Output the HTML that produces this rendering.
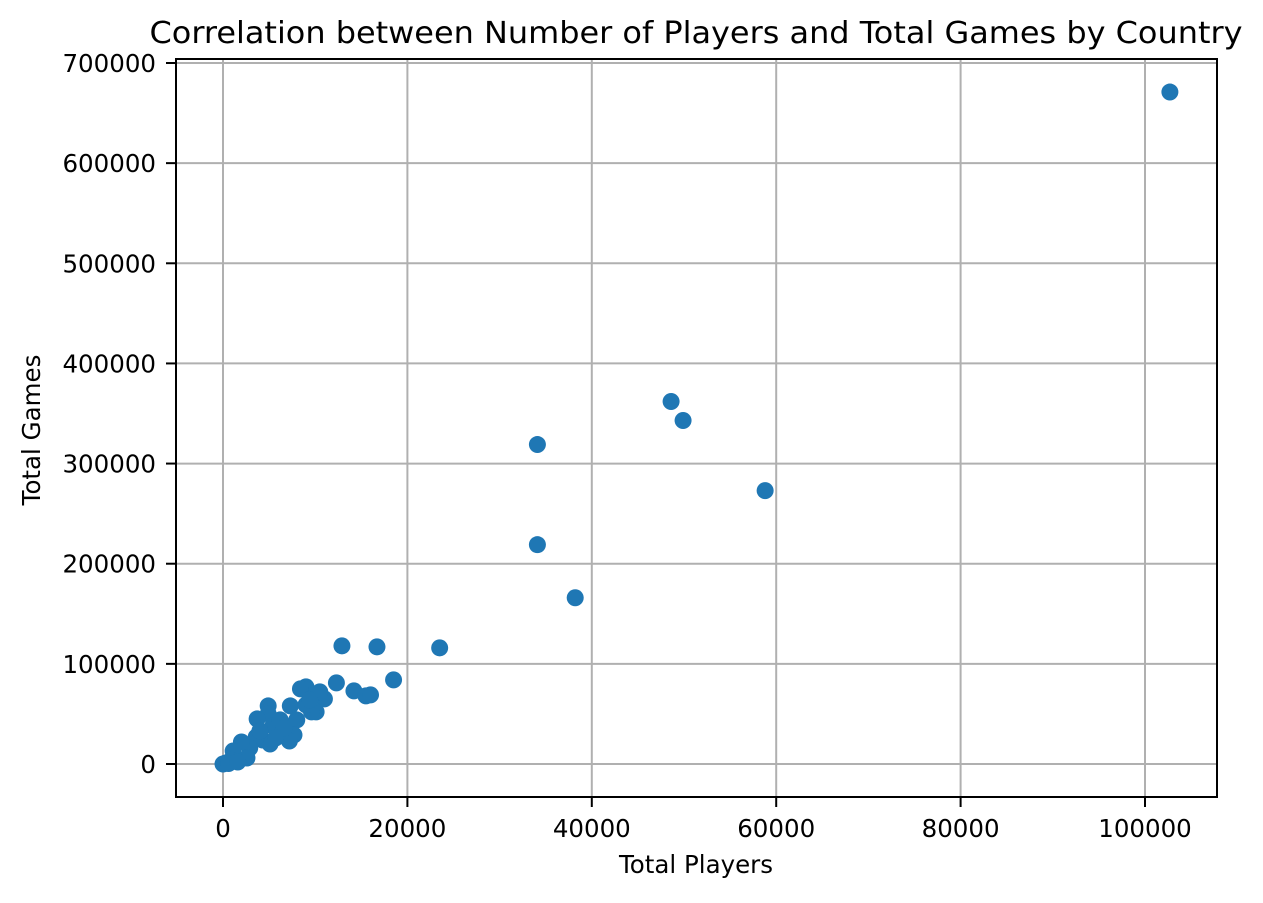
<!DOCTYPE html>
<html><head><meta charset="utf-8"><style>
body{margin:0;background:#fff;}
svg text{font-family:"DejaVu Sans","Liberation Sans",sans-serif;fill:#000;}
</style></head><body>
<svg id="chart" width="1263" height="898" xmlns="http://www.w3.org/2000/svg">
<text x="696" y="43" font-size="30" text-anchor="middle" textLength="1093" lengthAdjust="spacingAndGlyphs">Correlation between Number of Players and Total Games by Country</text>
<g id="grid"></g>
<g id="ticks"></g>
<g id="points"></g>
<rect x="176" y="59" width="1041" height="738" fill="none" stroke="#000" stroke-width="2"/>
<text x="696" y="873" font-size="24.5" text-anchor="middle">Total Players</text>
<text x="40" y="430" font-size="24.5" text-anchor="middle" transform="rotate(-90 40 430)">Total Games</text>
</svg>
<script>
const players=[102700,48600,49900,34100,58800,34100,38200,23500,12900,16700,18500,12300,14200,15500,16000,11000,10500,9000,8400,7300,10100,9600,8000,7700,7200,4900,4900,3700,5400,6200,6600,5100,4300,3600,2900,2000,2600,1100,900,300,0,600,1600,4000,5700,9000,9400];
const games=[671000,362000,343000,319000,273000,219000,166000,116000,118000,117000,84000,81000,73000,68000,69000,65000,72000,77000,75000,58000,52000,52000,44000,29000,23000,58000,50000,45000,38000,44000,36000,20000,24000,27000,16000,22000,6000,13000,4000,1000,0,500,2000,33000,26000,59000,64000];
const xTicks=[0,20000,40000,60000,80000,100000];
const yTicks=[0,100000,200000,300000,400000,500000,600000,700000];
const NS="http://www.w3.org/2000/svg";
function xs(v){return 223+v*(1145-223)/100000;}
function ys(v){return 764-v*(764-63)/700000;}
function mk(tag,attrs,parent){const e=document.createElementNS(NS,tag);for(const k in attrs)e.setAttribute(k,attrs[k]);parent.appendChild(e);return e;}
const grid=document.getElementById('grid'),ticks=document.getElementById('ticks'),pts=document.getElementById('points');
xTicks.forEach(t=>{const x=xs(t);
const g=mk('line',{x1:x,x2:x,y1:59,y2:797,stroke:'#b0b0b0','stroke-width':2},grid);


mk('line',{x1:x,x2:x,y1:797,y2:807,stroke:'#000','stroke-width':2},ticks);
const l=mk('text',{x:x,y:837,'font-size':24.5,'text-anchor':'middle'},ticks);l.textContent=t;

});
yTicks.forEach(t=>{const y=ys(t);
const g=mk('line',{x1:176,x2:1217,y1:y,y2:y,stroke:'#b0b0b0','stroke-width':2},grid);


mk('line',{x1:166,x2:176,y1:y,y2:y,stroke:'#000','stroke-width':2},ticks);
const l=mk('text',{x:156,y:y+9,'font-size':24.5,'text-anchor':'end'},ticks);l.textContent=t;

});
players.forEach((p,i)=>{const c=mk('circle',{cx:xs(p),cy:ys(games[i]),r:8.5,fill:'#1f77b4'},pts);

});
</script>
</body></html>
